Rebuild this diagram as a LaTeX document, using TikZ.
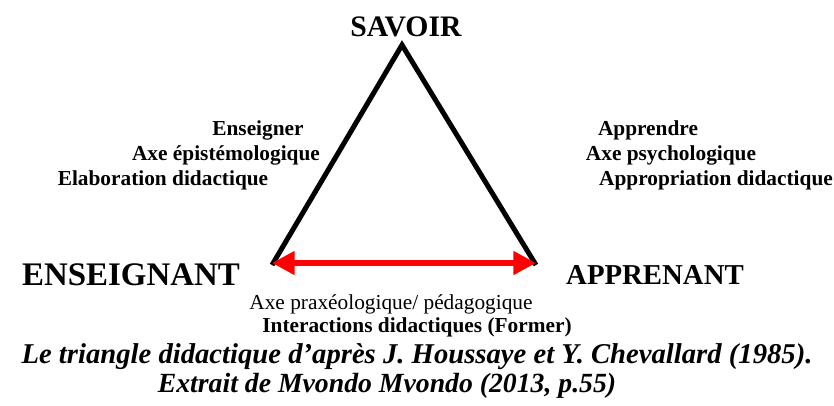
\documentclass[tikz,border=0pt]{standalone}
\usepackage{fontspec}
\setmainfont{Liberation Serif}
\usetikzlibrary{arrows.meta}
\tikzset{
  lbl/.style={inner sep=0pt, anchor=center, font=\bfseries\fontsize{16}{18}\selectfont},
  vert/.style={inner sep=0pt, anchor=center},
  tri/.style={line width=3.75pt, line join=miter, black},
  axe/.style={red, line width=4.5pt, {Triangle[length=17pt,width=17pt]}-{Triangle[length=17pt,width=17pt]}},
  captxt/.style={inner sep=0pt, anchor=center, font=\bfseries\itshape\fontsize{21}{23}\selectfont}
}
\begin{document}
\begin{tikzpicture}[x=0.75pt,y=-0.75pt]
\useasboundingbox (0,0) rectangle (834,405);
\coordinate (S) at (402,45);
\coordinate (E) at (272,265);
\coordinate (A) at (536,265);
\coordinate (E2) at (272,263);
\coordinate (A2) at (536,263);
\draw[tri] (E) -- (S) -- (A);
\draw[axe] (E2) -- (A2);
\node[vert, font=\bfseries\fontsize{22.3}{24}\selectfont] (savoir) at (406,27) {SAVOIR};
\node[vert, font=\bfseries\fontsize{24.7}{26}\selectfont] (ens) at (131,275) {ENSEIGNANT};
\node[vert, font=\bfseries\fontsize{21.6}{24}\selectfont] (app) at (655,275) {APPRENANT};
\node[lbl] (l1) at (258,130) {Enseigner};
\node[lbl] (l2) at (226,155) {Axe épistémologique};
\node[lbl] (l3) at (163,180) {Elaboration didactique};
\node[lbl] (r1) at (648,130) {Apprendre};
\node[lbl] (r2) at (671,155) {Axe psychologique};
\node[lbl] (r3) at (716,180) {Appropriation didactique};
\node[vert, font=\fontsize{16}{18}\selectfont] (b1) at (391,304) {Axe praxéologique/ pédagogique};
\node[lbl] (b2) at (417,327) {Interactions didactiques (Former)};
\node[captxt, font=\bfseries\itshape\fontsize{21.5}{23}\selectfont] (c1) at (417,357) {Le triangle didactique d’après J. Houssaye et Y. Chevallard (1985).};
\node[captxt, font=\bfseries\itshape\fontsize{20.8}{23}\selectfont] (c2) at (387,386) {Extrait de Mvondo Mvondo (2013, p.55)};
\end{tikzpicture}
\end{document}
